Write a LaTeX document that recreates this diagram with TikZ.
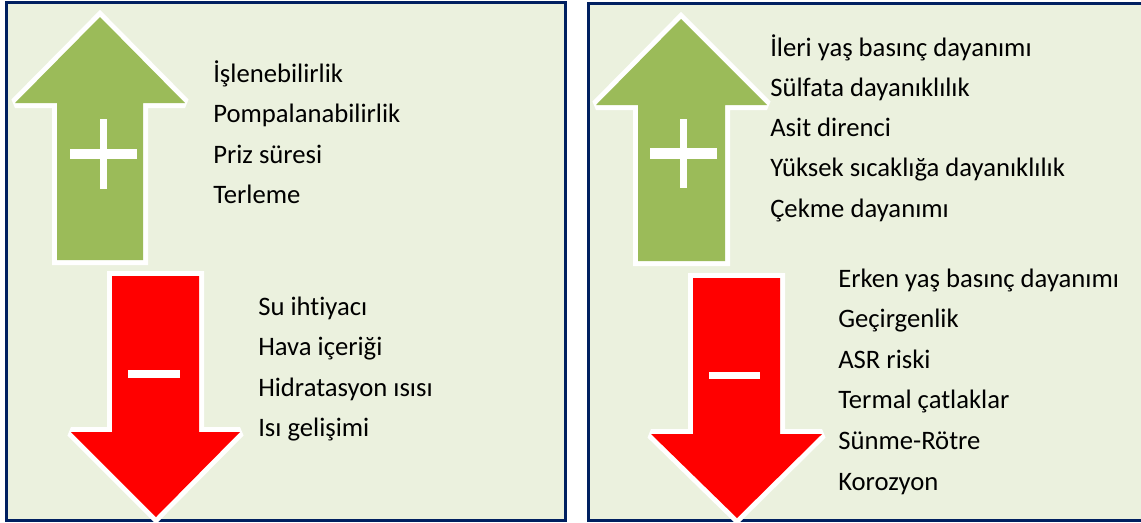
\documentclass[tikz,border=0pt]{standalone}
\usepackage{fontspec}
\setmainfont{Carlito}[Ligatures=NoCommon]

\definecolor{panelfill}{HTML}{EBF1DE}
\definecolor{panelline}{HTML}{002060}
\definecolor{upgreen}{HTML}{9BBB59}
\definecolor{downred}{HTML}{FF0000}

\begin{document}
\begin{tikzpicture}[x=0.75pt, y=-0.75pt,
    panel/.style={fill=panelfill, draw=panelline, line width=2.25pt},
    uparrow/.style={fill=upgreen, preaction={draw=white, line width=7.5pt, miter limit=2}},
    downarrow/.style={fill=downred, preaction={draw=white, line width=7.5pt, miter limit=2}},
    sign/.style={fill=white},
    item/.style={anchor=base west, inner sep=0pt, font=\fontsize{20}{24}\selectfont}]

    \clip (0,0) rectangle (1141,522);

    % Panels
    \draw[panel] (6.5,2.5) rectangle (565.5,520);
    \draw[panel] (588.5,3.5) rectangle (1150,520);

    % Left panel arrows
    \path[uparrow] (100,17) -- (185,103) -- (143,103) -- (143,260)
        -- (57,260) -- (57,103) -- (15,103) -- cycle;
    \path[downarrow] (112,276) -- (199,276) -- (199,432) -- (240,432)
        -- (156,517) -- (71,432) -- (112,432) -- cycle;

    % Right panel arrows
    \path[uparrow] (681,19) -- (767,105) -- (725,105) -- (725,261)
        -- (638,261) -- (638,105) -- (596,105) -- cycle;
    \path[downarrow] (693,278) -- (780,278) -- (780,434) -- (822,434)
        -- (737,518) -- (651,434) -- (693,434) -- cycle;

    % Plus and minus
    \fill[sign] (100,119) rectangle (107,189);
    \fill[sign] (70,149) rectangle (137,159);
    \fill[sign] (128,370) rectangle (180,378);
    \fill[sign] (680,119) rectangle (687,188);
    \fill[sign] (650,148) rectangle (717,159);
    \fill[sign] (709,372) rectangle (760,379);

    % Labels
    \foreach \txt [count=\i] in {İşlenebilirlik, Pompalanabilirlik, Priz süresi, Terleme}
        \node[item] (upL\i) at (213, 41.5+40.5*\i) {\txt};
    \foreach \txt [count=\i] in {Su ihtiyacı, Hava içeriği, Hidratasyon ısısı, Isı gelişimi}
        \node[item] (downL\i) at (258, 274.5+40.6*\i) {\txt};
    \foreach \txt [count=\i] in {İleri yaş basınç dayanımı, Sülfata dayanıklılık, Asit direnci,
            Yüksek sıcaklığa dayanıklılık, Çekme dayanımı}
        \node[item] (upR\i) at (770, 15.7+40.3*\i) {\txt};
    \foreach \txt [count=\i] in {Erken yaş basınç dayanımı, Geçirgenlik, ASR riski,
            Termal çatlaklar, Sünme-Rötre, Korozyon}
        \node[item] (downR\i) at (838, 246.4+40.6*\i) {\txt};

\end{tikzpicture}
\end{document}
